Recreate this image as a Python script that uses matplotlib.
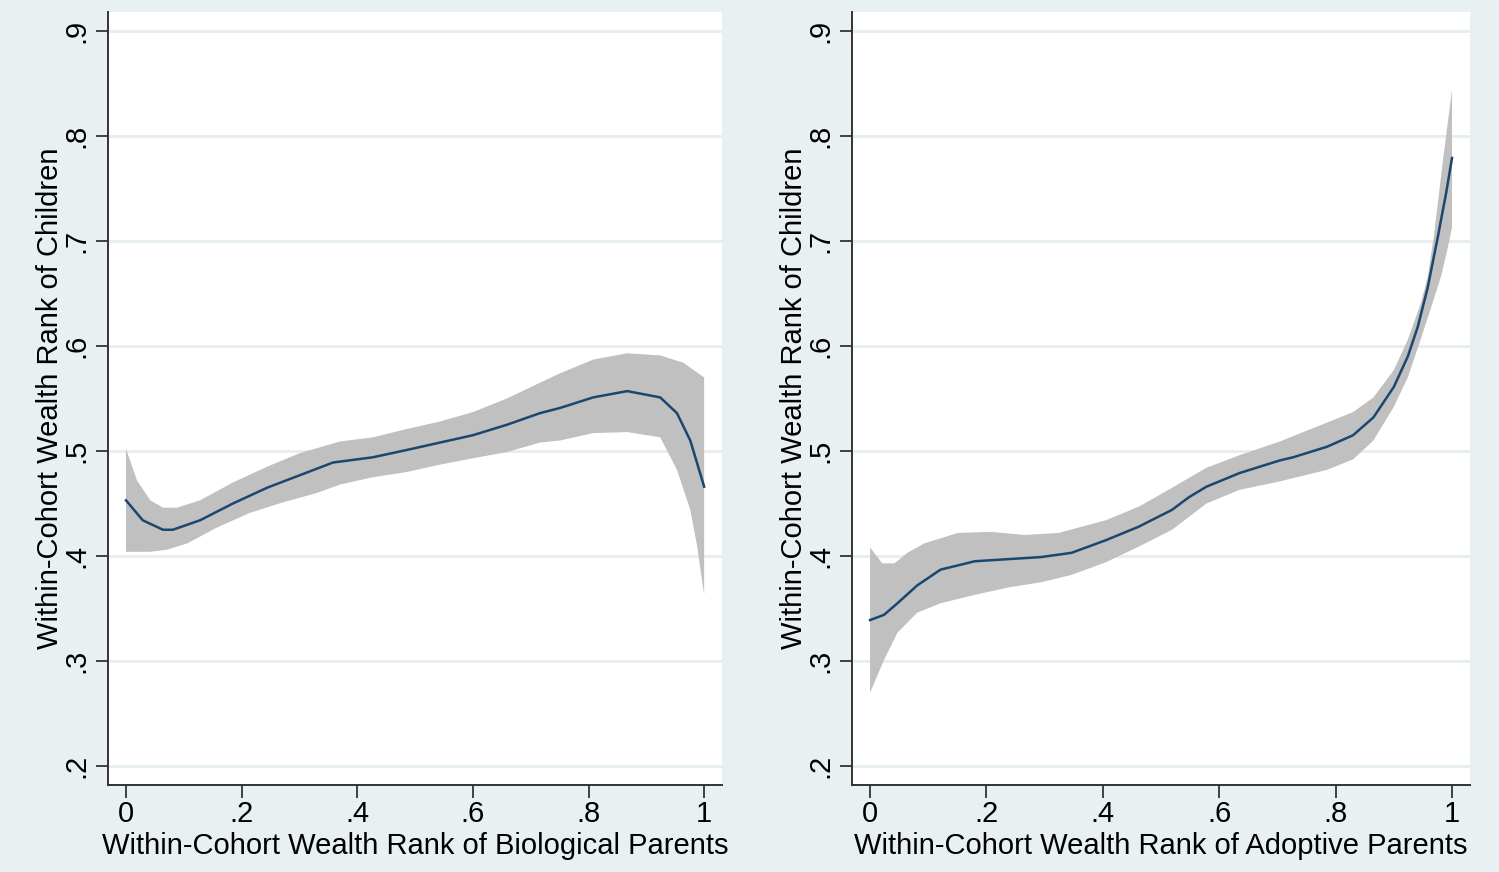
import matplotlib
matplotlib.use("Agg")
import matplotlib.pyplot as plt
import numpy as np

# left panel: biological parents (mean + 95% band)
bio_x = [0, .029, .064, .081, .128, .185, .244, .301, .358, .427, .486, .543, .600, .659, .716, .751, .808, .867, .924, .953, .976, 1.0]
bio_mean = [.453, .434, .425, .425, .434, .450, .465, .477, .489, .494, .501, .508, .515, .525, .536, .541, .551, .557, .551, .536, .510, .466]
bio_up_x = [0, .019, .042, .064, .088, .128, .185, .244, .301, .370, .427, .486, .543, .600, .659, .716, .751, .808, .867, .924, .964, 1.0]
bio_up = [.502, .472, .453, .446, .446, .453, .470, .485, .498, .509, .513, .521, .528, .537, .550, .565, .574, .587, .593, .591, .584, .570]
bio_lo_x = [0, .042, .071, .106, .157, .214, .271, .330, .370, .427, .486, .543, .600, .659, .716, .751, .808, .867, .924, .953, .976, .988, 1.0]
bio_lo = [.404, .404, .406, .412, .427, .441, .451, .460, .468, .475, .480, .487, .493, .499, .508, .510, .517, .518, .513, .482, .444, .409, .363]

# right panel: adoptive parents
adp_x = [0, .024, .047, .081, .121, .180, .237, .294, .346, .405, .462, .519, .548, .578, .635, .704, .727, .785, .830, .865, .900, .924, .941, .958, .976, .990, 1.0]
adp_mean = [.339, .344, .355, .372, .387, .395, .397, .399, .403, .415, .428, .444, .456, .466, .479, .491, .494, .504, .515, .532, .561, .590, .618, .655, .705, .746, .779]
adp_up_x = [0, .021, .042, .064, .093, .151, .208, .266, .324, .405, .462, .519, .578, .635, .704, .785, .830, .865, .900, .924, .946, .958, .969, .984, 1.0]
adp_up = [.408, .393, .393, .403, .412, .422, .423, .420, .422, .434, .447, .465, .484, .496, .509, .527, .537, .551, .577, .606, .640, .665, .705, .775, .844]
adp_lo_x = [0, .024, .047, .081, .121, .180, .237, .294, .346, .405, .462, .519, .578, .635, .704, .785, .830, .865, .900, .924, .946, .969, .981, .993, 1.0]
adp_lo = [.270, .301, .327, .346, .355, .363, .370, .375, .382, .394, .409, .425, .450, .463, .471, .482, .492, .510, .542, .570, .606, .645, .666, .694, .713]

x_ticks = [0, .2, .4, .6, .8, 1]
x_ticklabels = ["0", ".2", ".4", ".6", ".8", "1"]
y_ticks = [.2, .3, .4, .5, .6, .7, .8, .9]
y_ticklabels = [".2", ".3", ".4", ".5", ".6", ".7", ".8", ".9"]

ylabel = "Within-Cohort Wealth Rank of Children"
xlabels = ["Within-Cohort Wealth Rank of Biological Parents",
           "Within-Cohort Wealth Rank of Adoptive Parents"]

plt.rcParams["font.family"] = ["Liberation Sans", "DejaVu Sans"]
bg = "#e8f0f2"
fs = 21

fig = plt.figure(figsize=(14.99, 8.72), dpi=100, facecolor=bg)
axes = [fig.add_axes([0.0721, 0.0998, 0.4096, 0.8865]),
        fig.add_axes([0.5684, 0.0998, 0.4123, 0.8865])]

panels = [(bio_x, bio_mean, bio_up_x, bio_up, bio_lo_x, bio_lo),
          (adp_x, adp_mean, adp_up_x, adp_up, adp_lo_x, adp_lo)]

for ax, (x, m, ux, u, lx, lo), xl in zip(axes, panels, xlabels):
    ax.set_facecolor("white")
    band_x = np.concatenate([ux, lx[::-1]])
    band_y = np.concatenate([u, lo[::-1]])
    ax.fill(band_x, band_y, color="#c0c0c0", lw=0, zorder=2)
    ax.plot(x, m, color="#1a476f", lw=1.8, zorder=3)

    ax.set_xlim(-0.031, 1.031)
    ax.set_ylim(0.182, 0.918)
    ax.set_xticks(x_ticks)
    ax.set_xticklabels(x_ticklabels, fontsize=fs)
    ax.set_yticks(y_ticks)
    ax.set_yticklabels(y_ticklabels, fontsize=fs, rotation=90, va="center")
    ax.tick_params(axis="both", direction="out", length=9, width=1.3, color="#333333")
    ax.tick_params(axis="y", pad=4)
    ax.tick_params(axis="x", pad=2)
    ax.grid(axis="y", color="#e6eef1", lw=2, zorder=1)
    ax.set_axisbelow(True)
    for s in ["top", "right"]:
        ax.spines[s].set_visible(False)
    for s in ["left", "bottom"]:
        ax.spines[s].set_linewidth(1.4)
        ax.spines[s].set_color("#333333")

    ax.set_xlabel(xl, fontsize=fs, labelpad=3)
    ax.set_ylabel(ylabel, fontsize=fs)
    ax.yaxis.set_label_coords(-0.072, 0.5)

fig.savefig("out.png", dpi=100, facecolor=bg)
